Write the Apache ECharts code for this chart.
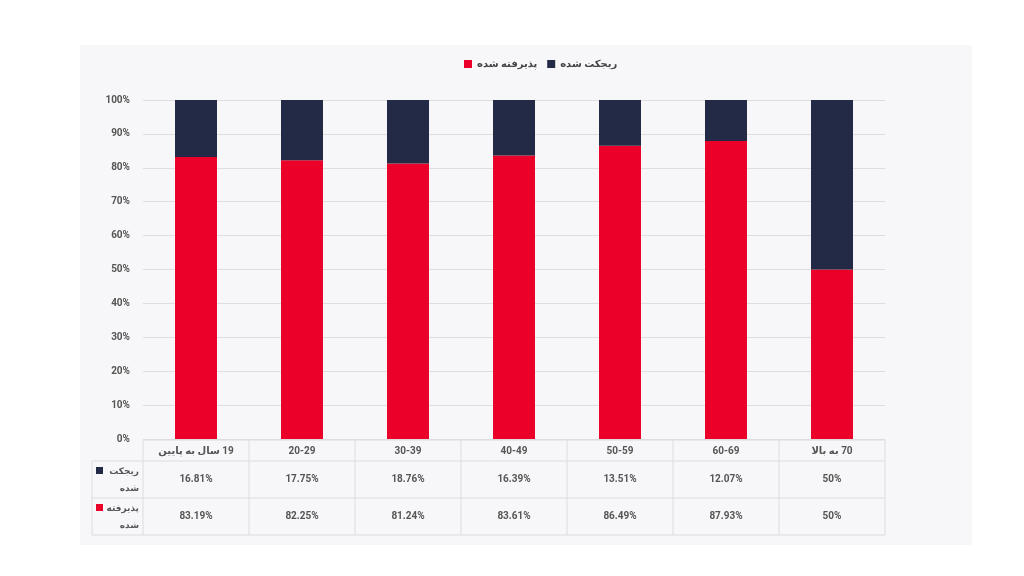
<!DOCTYPE html>
<html><head><meta charset="utf-8">
<script src="https://cdn.jsdelivr.net/npm/echarts@6/dist/echarts.min.js"></script>
<style>html,body{margin:0;padding:0;background:#fff}#c{width:1024px;height:576px}</style>
</head><body><div id="c"></div>
<script>
const categories = ["19 سال به پایین","20-29","30-39","40-49","50-59","60-69","70 به بالا"];
const rejected = [16.81,17.75,18.76,16.39,13.51,12.07,50];
const accepted = [83.19,82.25,81.24,83.61,86.49,87.93,50];
const rejectedName = "ریجکت شده";
const acceptedName = "پذیرفته شده";
const rowLabels = ["ریجکت\nشده","پذیرفته\nشده"];
const RED = "#EA0029", NAVY = "#222A45";
const FONT = "Roboto, 'DejaVu Sans', sans-serif";
const TXT = "#555";
const rtl = s => "\u202B" + s + "\u202C";

const chart = echarts.init(document.getElementById('c'));
const fmt = v => (Math.round(v*100)/100) + '%';
chart.setOption({
  backgroundColor: '#ffffff',
  animation: false,
  textStyle: {fontFamily: FONT},
  legend: {
    left: 459, top: 54, itemWidth: 8, itemHeight: 8, itemGap: 10,
    icon: 'rect',
    textStyle: {fontFamily: FONT, fontSize: 10, fontWeight: 'bold', color: '#444'},
    data: [acceptedName, rejectedName]
  },
  grid: {left: 143, right: 139, top: 100, bottom: 137, containLabel: false},
  xAxis: {
    type: 'category', data: categories,
    axisLine: {show: false}, axisTick: {show: false},
    axisLabel: {margin: 7, fontSize: 10, fontWeight: 'bold', color: TXT, fontFamily: FONT, interval: 0,
      formatter: v => rtl(v)}
  },
  yAxis: {
    type: 'value', min: 0, max: 100, interval: 10,
    axisLabel: {formatter: '{value}%', fontSize: 10, fontWeight: 'bold', color: TXT, margin: 13},
    splitLine: {lineStyle: {color: '#dedede'}},
    axisLine: {show: false}, axisTick: {show: false}
  },
  series: [
    {name: acceptedName, type: 'bar', stack: 'a', data: accepted, barWidth: 42, itemStyle: {color: RED}},
    {name: rejectedName, type: 'bar', stack: 'a', data: rejected, barWidth: 42, itemStyle: {color: NAVY}}
  ]
});

// build table overlay from axis scales
const c0 = chart.convertToPixel({xAxisIndex: 0}, 0);
const c1 = chart.convertToPixel({xAxisIndex: 0}, 1);
const band = c1 - c0;
const yBase = chart.convertToPixel({yAxisIndex: 0}, 0);
const left = c0 - band/2;
const right = chart.convertToPixel({xAxisIndex: 0}, categories.length-1) + band/2;
const tTop = yBase + 1, hRow = 21, dRow = 37;
const r1 = tTop + hRow, r2 = r1 + dRow, r3 = r2 + dRow;
const labelLeft = left - 51;
const LC = '#dcdcdc';
const els = [];
els.push({type:'rect', z:-10, shape:{x:80,y:45,width:892,height:500}, style:{fill:'#f7f7f9'}});
const line = (x1,y1,x2,y2) => els.push({type:'line', z:5, shape:{x1,y1,x2,y2}, style:{stroke:LC, lineWidth:1}});
line(left, tTop, right, tTop);
line(labelLeft, r1, right, r1);
line(labelLeft, r2, right, r2);
line(labelLeft, r3, right, r3);
line(labelLeft, r1, labelLeft, r3);
for (let i = 0; i <= categories.length; i++) {
  const x = left + i*band;
  line(x, tTop, x, r3);
}
const rows = [rejected, accepted];
rows.forEach((arr, ri) => {
  const yc = r1 + dRow*ri + dRow/2;
  arr.forEach((v, i) => {
    const x = chart.convertToPixel({xAxisIndex: 0}, i);
    els.push({type:'text', z:6, style:{text: fmt(v), x, y: yc, align:'center', verticalAlign:'middle',
      fill: TXT, font: 'bold 10px ' + FONT}});
  });
  els.push({type:'text', z:6, style:{text: rowLabels[ri], x: left - 4, y: r1 + dRow*ri + 2, align:'right', verticalAlign:'top',
    fill: TXT, font: 'bold 9px ' + FONT, lineHeight: 17}});
  els.push({type:'rect', z:6, shape:{x: labelLeft + 4, y: r1 + dRow*ri + 6, width: 7, height: 7}, style:{fill: ri===0?NAVY:RED}});
});
chart.setOption({graphic: els});
</script></body></html>
